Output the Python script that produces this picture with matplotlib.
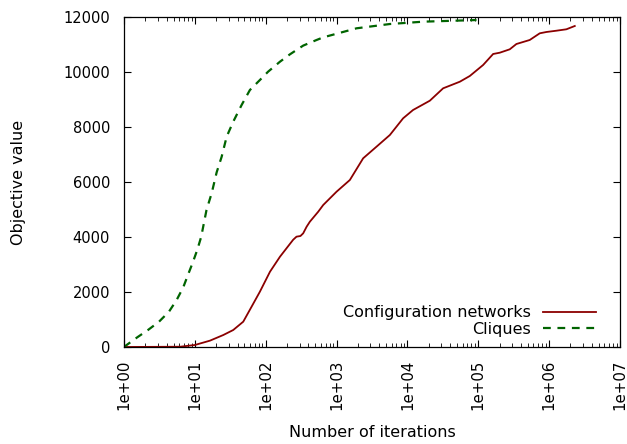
import numpy as np
import matplotlib
matplotlib.use("Agg")
import matplotlib.pyplot as plt
from matplotlib.ticker import LogLocator, FixedLocator, NullFormatter

# values (iterations, objective)
config_iter = [1, 6.2, 10, 16.3, 25.2, 34.8, 48.2, 63.2, 82.8, 115, 159, 219, 244, 272,
               309, 338, 378, 420, 551, 648, 1000, 1540, 2372, 3660, 5650, 8690,
               12000, 20700, 31900, 54900, 75900, 117000, 162000, 201000, 278000,
               345000, 532000, 737000, 916000, 1.27e6, 1.75e6, 2.3e6]
config_obj = [0, 10, 73, 230, 436, 618, 921, 1466, 2012, 2739, 3284, 3745, 3900, 4012,
              4036, 4134, 4375, 4557, 4920, 5164, 5648, 6073, 6862, 7284, 7709, 8316,
              8618, 8956, 9407, 9647, 9855, 10255, 10655, 10702, 10825,
              11018, 11164, 11407, 11455, 11502, 11553, 11673]

clique_iter = [1, 1.09, 1.54, 2.18, 3.12, 4.31, 5.53, 6.86, 7.98, 9.32, 10.8, 12.3, 13.4,
               14.6, 17.3, 20.3, 23.9, 28.1, 34.8, 45.7, 59.8, 82.8, 108, 159, 219, 338,
               522, 648, 1915, 5650, 16700, 94400]
clique_obj = [0, 73, 353, 618, 920, 1284, 1709, 2171, 2618, 3066, 3527, 4011, 4498,
              4982, 5600, 6350, 6920, 7647, 8193, 8800, 9345, 9709, 10011, 10375, 10640,
              10960, 11164, 11260, 11589, 11745, 11830, 11890]

xticks = [1e0, 1e1, 1e2, 1e3, 1e4, 1e5, 1e6, 1e7]
xtick_labels = ["1e+00", "1e+01", "1e+02", "1e+03", "1e+04", "1e+05", "1e+06", "1e+07"]
yticks = [0, 2000, 4000, 6000, 8000, 10000, 12000]

plt.rcParams["font.family"] = ["DejaVu Sans"]
plt.rcParams["font.size"] = 11.5

fig = plt.figure(figsize=(6.27, 4.44), dpi=100)
ax = fig.add_axes([124 / 627, 97 / 444, 496 / 627, 330 / 444])

ax.plot(config_iter, config_obj, color="#8b0000", lw=1.3, label="Configuration networks")
ax.plot(clique_iter, clique_obj, color="#006400", lw=1.6, dashes=(3.5, 3), label="Cliques")

ax.set_xscale("log")
ax.set_xlim(1, 1e7)
ax.set_ylim(0, 12000)
ax.xaxis.set_major_locator(FixedLocator(xticks))
ax.set_xticklabels(xtick_labels, rotation=90, fontsize=10.8)
ax.xaxis.set_minor_locator(LogLocator(base=10, subs=np.arange(2, 10)))
ax.xaxis.set_minor_formatter(NullFormatter())
ax.set_yticks(yticks)
ax.set_yticklabels([str(v) for v in yticks], fontsize=10.5)

ax.tick_params(which="both", direction="in", top=True, right=True, color="black")
ax.tick_params(which="major", length=5, width=0.8)
ax.tick_params(which="minor", length=3, width=0.6)
ax.tick_params(axis="x", pad=9)
ax.tick_params(axis="y", pad=10)
for s in ax.spines.values():
    s.set_linewidth(0.9)

ax.set_xlabel("Number of iterations", labelpad=11)
ax.set_ylabel("Objective value", labelpad=27)

ax.legend(loc="lower right", bbox_to_anchor=(0.9516, 0.031), frameon=False,
          markerfirst=False, handlelength=3.3, borderaxespad=0, borderpad=0,
          labelspacing=0.1, handletextpad=0.8)

fig.savefig("out.png", dpi=100)
